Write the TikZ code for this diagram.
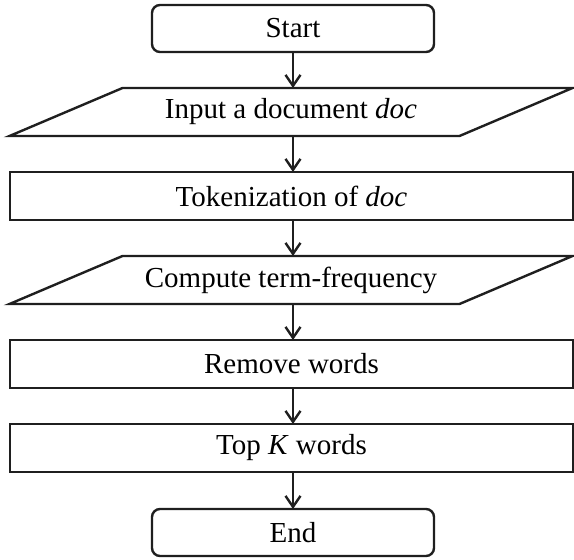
\documentclass[tikz,border=0pt]{standalone}
\usepackage{fontspec}
\setmainfont{Liberation Serif}
\usetikzlibrary{arrows.meta}

\begin{document}
\begin{tikzpicture}[x=1pt, y=-1pt,
  font=\fontsize{29}{34}\selectfont,
  line width=2.4pt,
  ink/.style={draw=black!88},
  terminal/.style={ink, rounded corners=8pt, minimum width=282pt,
    minimum height=47pt, inner sep=0pt, outer sep=0pt},
  process/.style={ink, minimum width=563pt, minimum height=48pt,
    inner sep=0pt, outer sep=0pt},
  iobox/.style={minimum width=563pt, minimum height=48pt,
    inner sep=0pt, outer sep=0pt},
  flow/.style={ink, -{Straight Barb[length=11pt, width=15pt]}}
]
\useasboundingbox (0,0) rectangle (574,560);

% terminals and steps
\node[terminal] (start)  at (293,28.5) {Start};
\node[iobox]    (input)  at (291,112)  {Input a document \textit{doc}};
\node[process]  (token)  at (291.5,196) {Tokenization of \textit{doc}};
\node[iobox]    (tf)     at (291,280)  {Compute term-frequency};
\node[process]  (remove) at (291.5,364) {Remove words};
\node[process]  (topk)   at (291.5,448) {Top \textit{K} words};
\node[terminal] (end)    at (293,532.5) {End};

% input/output parallelograms
\foreach \n in {input,tf}{
  \draw[ink, line join=miter]
    ([xshift=113pt]\n.north west) -- (\n.north east)
    -- ([xshift=-113pt]\n.south east) -- (\n.south west) -- cycle;
}

% connectors
\draw[flow] (start.south) -- (start.south |- input.north);
\draw[flow] (start.south |- input.south) -- (start.south |- token.north);
\draw[flow] (start.south |- token.south) -- (start.south |- tf.north);
\draw[flow] (start.south |- tf.south) -- (start.south |- remove.north);
\draw[flow] (start.south |- remove.south) -- (start.south |- topk.north);
\draw[flow] (start.south |- topk.south) -- (end.north);
\end{tikzpicture}
\end{document}
